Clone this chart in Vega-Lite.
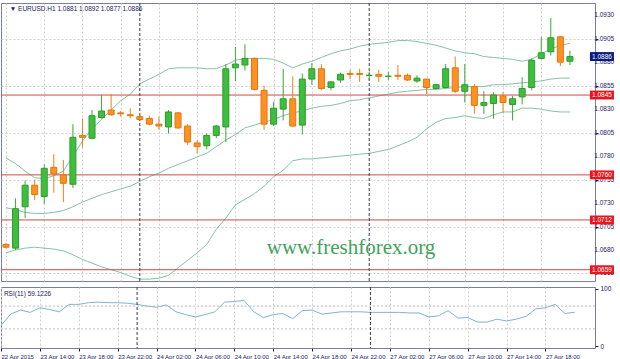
{
  "$schema": "https://vega.github.io/schema/vega-lite/v6.json",
  "background": "white",
  "padding": {"left": 0, "top": 2, "right": 0, "bottom": 0},
  "spacing": 3,
  "config": {
    "view": {"stroke": "#7a7f99", "strokeWidth": 1},
    "font": "Liberation Sans",
    "axis": {"labelFont": "Liberation Sans", "labelFontSize": 6.5, "labelColor": "#1c2060", "tickColor": "#1c2060", "domain": false, "title": null, "gridColor": "#cfcfcf", "gridDash": [2, 2], "tickSize": 3, "labelPadding": 2, "labelOverlap": false, "labelBound": false}
  },
  "datasets": {
    "bars": [
      {"k": -14, "o": 1.0686, "h": 1.0687, "l": 1.0682, "c": 1.0683, "up": 1.0778, "mid": 1.0725, "lo": 1.0677, "rsi": 36},
      {"k": -13, "o": 1.0682, "h": 1.0735, "l": 1.0680, "c": 1.0724, "up": 1.0772, "mid": 1.0723, "lo": 1.0680, "rsi": 56},
      {"k": -12, "o": 1.0726, "h": 1.0754, "l": 1.0714, "c": 1.0749, "up": 1.0764, "mid": 1.0720, "lo": 1.0682, "rsi": 63},
      {"k": -11, "o": 1.0749, "h": 1.0755, "l": 1.0733, "c": 1.0739, "up": 1.0757, "mid": 1.0719, "lo": 1.0683, "rsi": 59},
      {"k": -10, "o": 1.0737, "h": 1.0771, "l": 1.0729, "c": 1.0767, "up": 1.0756, "mid": 1.0719, "lo": 1.0682, "rsi": 67},
      {"k": -9, "o": 1.0768, "h": 1.0782, "l": 1.0741, "c": 1.0761, "up": 1.0759, "mid": 1.0720, "lo": 1.0681, "rsi": 64},
      {"k": -8, "o": 1.0760, "h": 1.0776, "l": 1.0731, "c": 1.0751, "up": 1.0764, "mid": 1.0722, "lo": 1.0679, "rsi": 60},
      {"k": -7, "o": 1.0750, "h": 1.0814, "l": 1.0746, "c": 1.0800, "up": 1.0780, "mid": 1.0726, "lo": 1.0675, "rsi": 73},
      {"k": -6, "o": 1.0802, "h": 1.0820, "l": 1.0789, "c": 1.0800, "up": 1.0796, "mid": 1.0731, "lo": 1.0670, "rsi": 73},
      {"k": -5, "o": 1.0799, "h": 1.0829, "l": 1.0798, "c": 1.0823, "up": 1.0809, "mid": 1.0735, "lo": 1.0666, "rsi": 76},
      {"k": -4, "o": 1.0821, "h": 1.0845, "l": 1.0820, "c": 1.0828, "up": 1.0819, "mid": 1.0739, "lo": 1.0662, "rsi": 77},
      {"k": -3, "o": 1.0829, "h": 1.0846, "l": 1.0823, "c": 1.0824, "up": 1.0829, "mid": 1.0742, "lo": 1.0659, "rsi": 76},
      {"k": -2, "o": 1.0826, "h": 1.0828, "l": 1.0822, "c": 1.0825, "up": 1.0839, "mid": 1.0745, "lo": 1.0656, "rsi": 76},
      {"k": -1, "o": 1.0824, "h": 1.0831, "l": 1.0820, "c": 1.0823, "up": 1.0846, "mid": 1.0748, "lo": 1.0652, "rsi": 75},
      {"k": 0, "o": 1.0822, "h": 1.0824, "l": 1.0818, "c": 1.0819, "up": 1.0857, "mid": 1.0753, "lo": 1.0649, "rsi": 73},
      {"k": 1, "o": 1.0820, "h": 1.0823, "l": 1.0813, "c": 1.0814, "up": 1.0862, "mid": 1.0758, "lo": 1.0649, "rsi": 70},
      {"k": 2, "o": 1.0814, "h": 1.0822, "l": 1.0808, "c": 1.0812, "up": 1.0867, "mid": 1.0762, "lo": 1.0650, "rsi": 68},
      {"k": 3, "o": 1.0811, "h": 1.0829, "l": 1.0804, "c": 1.0827, "up": 1.0873, "mid": 1.0767, "lo": 1.0653, "rsi": 72},
      {"k": 4, "o": 1.0826, "h": 1.0827, "l": 1.0809, "c": 1.0810, "up": 1.0874, "mid": 1.0771, "lo": 1.0661, "rsi": 60},
      {"k": 5, "o": 1.0812, "h": 1.0814, "l": 1.0792, "c": 1.0795, "up": 1.0874, "mid": 1.0775, "lo": 1.0669, "rsi": 55},
      {"k": 6, "o": 1.0794, "h": 1.0797, "l": 1.0783, "c": 1.0790, "up": 1.0874, "mid": 1.0779, "lo": 1.0677, "rsi": 51},
      {"k": 7, "o": 1.0791, "h": 1.0804, "l": 1.0787, "c": 1.0802, "up": 1.0873, "mid": 1.0783, "lo": 1.0686, "rsi": 55},
      {"k": 8, "o": 1.0802, "h": 1.0813, "l": 1.0799, "c": 1.0812, "up": 1.0873, "mid": 1.0790, "lo": 1.0702, "rsi": 60},
      {"k": 9, "o": 1.0811, "h": 1.0878, "l": 1.0795, "c": 1.0873, "up": 1.0877, "mid": 1.0797, "lo": 1.0714, "rsi": 77},
      {"k": 10, "o": 1.0874, "h": 1.0896, "l": 1.0860, "c": 1.0878, "up": 1.0882, "mid": 1.0803, "lo": 1.0728, "rsi": 78},
      {"k": 11, "o": 1.0877, "h": 1.0899, "l": 1.0871, "c": 1.0884, "up": 1.0884, "mid": 1.0810, "lo": 1.0734, "rsi": 80},
      {"k": 12, "o": 1.0884, "h": 1.0885, "l": 1.0850, "c": 1.0851, "up": 1.0884, "mid": 1.0813, "lo": 1.0740, "rsi": 60},
      {"k": 13, "o": 1.0850, "h": 1.0855, "l": 1.0808, "c": 1.0814, "up": 1.0884, "mid": 1.0816, "lo": 1.0748, "rsi": 50},
      {"k": 14, "o": 1.0814, "h": 1.0838, "l": 1.0812, "c": 1.0831, "up": 1.0883, "mid": 1.0819, "lo": 1.0758, "rsi": 55},
      {"k": 15, "o": 1.0830, "h": 1.0873, "l": 1.0818, "c": 1.0841, "up": 1.0879, "mid": 1.0823, "lo": 1.0765, "rsi": 57},
      {"k": 16, "o": 1.0841, "h": 1.0865, "l": 1.0811, "c": 1.0812, "up": 1.0874, "mid": 1.0826, "lo": 1.0775, "rsi": 48},
      {"k": 17, "o": 1.0813, "h": 1.0868, "l": 1.0803, "c": 1.0862, "up": 1.0878, "mid": 1.0828, "lo": 1.0777, "rsi": 62},
      {"k": 18, "o": 1.0862, "h": 1.0879, "l": 1.0856, "c": 1.0873, "up": 1.0881, "mid": 1.0831, "lo": 1.0777, "rsi": 63},
      {"k": 19, "o": 1.0873, "h": 1.0878, "l": 1.0850, "c": 1.0852, "up": 1.0885, "mid": 1.0833, "lo": 1.0778, "rsi": 56},
      {"k": 20, "o": 1.0853, "h": 1.0860, "l": 1.0850, "c": 1.0859, "up": 1.0889, "mid": 1.0834, "lo": 1.0779, "rsi": 58},
      {"k": 21, "o": 1.0861, "h": 1.0869, "l": 1.0858, "c": 1.0867, "up": 1.0892, "mid": 1.0836, "lo": 1.0780, "rsi": 60},
      {"k": 22, "o": 1.0868, "h": 1.0872, "l": 1.0862, "c": 1.0867, "up": 1.0894, "mid": 1.0839, "lo": 1.0781, "rsi": 60},
      {"k": 23, "o": 1.0868, "h": 1.0873, "l": 1.0859, "c": 1.0867, "up": 1.0897, "mid": 1.0840, "lo": 1.0782, "rsi": 60},
      {"k": 24, "o": 1.0866, "h": 1.0870, "l": 1.0861, "c": 1.0866, "up": 1.0899, "mid": 1.0842, "lo": 1.0783, "rsi": 59},
      {"k": 25, "o": 1.0867, "h": 1.0872, "l": 1.0859, "c": 1.0865, "up": 1.0900, "mid": 1.0844, "lo": 1.0785, "rsi": 59},
      {"k": 26, "o": 1.0865, "h": 1.0870, "l": 1.0861, "c": 1.0865, "up": 1.0901, "mid": 1.0846, "lo": 1.0787, "rsi": 59},
      {"k": 27, "o": 1.0866, "h": 1.0877, "l": 1.0861, "c": 1.0865, "up": 1.0903, "mid": 1.0848, "lo": 1.0791, "rsi": 59},
      {"k": 28, "o": 1.0866, "h": 1.0868, "l": 1.0860, "c": 1.0861, "up": 1.0903, "mid": 1.0849, "lo": 1.0795, "rsi": 58},
      {"k": 29, "o": 1.0860, "h": 1.0866, "l": 1.0858, "c": 1.0863, "up": 1.0902, "mid": 1.0850, "lo": 1.0800, "rsi": 58},
      {"k": 30, "o": 1.0862, "h": 1.0862, "l": 1.0846, "c": 1.0853, "up": 1.0900, "mid": 1.0851, "lo": 1.0809, "rsi": 51},
      {"k": 31, "o": 1.0852, "h": 1.0857, "l": 1.0851, "c": 1.0856, "up": 1.0898, "mid": 1.0851, "lo": 1.0816, "rsi": 53},
      {"k": 32, "o": 1.0853, "h": 1.0878, "l": 1.0852, "c": 1.0873, "up": 1.0895, "mid": 1.0852, "lo": 1.0820, "rsi": 62},
      {"k": 33, "o": 1.0874, "h": 1.0886, "l": 1.0847, "c": 1.0849, "up": 1.0892, "mid": 1.0853, "lo": 1.0821, "rsi": 49},
      {"k": 34, "o": 1.0849, "h": 1.0878, "l": 1.0837, "c": 1.0856, "up": 1.0890, "mid": 1.0854, "lo": 1.0823, "rsi": 50},
      {"k": 35, "o": 1.0854, "h": 1.0857, "l": 1.0825, "c": 1.0834, "up": 1.0889, "mid": 1.0854, "lo": 1.0821, "rsi": 42},
      {"k": 36, "o": 1.0834, "h": 1.0849, "l": 1.0825, "c": 1.0837, "up": 1.0886, "mid": 1.0854, "lo": 1.0820, "rsi": 42},
      {"k": 37, "o": 1.0836, "h": 1.0848, "l": 1.0820, "c": 1.0845, "up": 1.0885, "mid": 1.0856, "lo": 1.0824, "rsi": 47},
      {"k": 38, "o": 1.0844, "h": 1.0848, "l": 1.0826, "c": 1.0837, "up": 1.0884, "mid": 1.0856, "lo": 1.0827, "rsi": 44},
      {"k": 39, "o": 1.0835, "h": 1.0844, "l": 1.0818, "c": 1.0841, "up": 1.0883, "mid": 1.0857, "lo": 1.0827, "rsi": 47},
      {"k": 40, "o": 1.0843, "h": 1.0864, "l": 1.0835, "c": 1.0852, "up": 1.0881, "mid": 1.0858, "lo": 1.0831, "rsi": 52},
      {"k": 41, "o": 1.0853, "h": 1.0884, "l": 1.0850, "c": 1.0882, "up": 1.0883, "mid": 1.0859, "lo": 1.0831, "rsi": 65},
      {"k": 42, "o": 1.0884, "h": 1.0907, "l": 1.0883, "c": 1.0890, "up": 1.0889, "mid": 1.0860, "lo": 1.0830, "rsi": 67},
      {"k": 43, "o": 1.0891, "h": 1.0927, "l": 1.0887, "c": 1.0906, "up": 1.0894, "mid": 1.0862, "lo": 1.0828, "rsi": 73},
      {"k": 44, "o": 1.0907, "h": 1.0908, "l": 1.0876, "c": 1.0880, "up": 1.0898, "mid": 1.0863, "lo": 1.0827, "rsi": 57},
      {"k": 45, "o": 1.0881, "h": 1.0892, "l": 1.0877, "c": 1.0886, "up": 1.0900, "mid": 1.0863, "lo": 1.0827, "rsi": 59.1226}
    ],
    "levels": [{"p": 1.0845}, {"p": 1.0760}, {"p": 1.0712}, {"p": 1.0659}],
    "last": [{"p": 1.0886}],
    "pticks": [{"p": 1.0655}, {"p": 1.0680}, {"p": 1.0705}, {"p": 1.0730}, {"p": 1.0755}, {"p": 1.0780}, {"p": 1.0805}, {"p": 1.0830}, {"p": 1.0855}, {"p": 1.0880}, {"p": 1.0905}, {"p": 1.0930}],
    "seps": [{"k": 0}, {"k": 24}],
    "rsilevels": [{"v": 30}, {"v": 70}]
  },
  "vconcat": [
    {
      "width": 594,
      "height": 278,
      "layer": [
        {
          "data": {"name": "bars"},
          "mark": {"type": "line", "color": "#86c2a4", "strokeWidth": 1, "clip": true},
          "encoding": {
            "x": {"field": "k", "type": "quantitative", "scale": {"domain": [-14, 47.1], "nice": false, "zero": false},
                  "axis": {"values": [-14, -10, -6, -2, 2, 6, 10, 14, 18, 22, 26, 30, 34, 38, 42], "labels": false, "ticks": false, "grid": true}},
            "y": {"field": "up", "type": "quantitative", "scale": {"domain": [1.0647, 1.0943], "nice": false, "zero": false},
                  "axis": {"orient": "right", "values": [1.0655, 1.068, 1.0705, 1.073, 1.0755, 1.078, 1.0805, 1.083, 1.0855, 1.088, 1.0905, 1.093], "labels": false, "grid": true}}
          }
        },
        {
          "data": {"name": "bars"},
          "mark": {"type": "line", "color": "#86c2a4", "strokeWidth": 1, "clip": true},
          "encoding": {"x": {"field": "k", "type": "quantitative"}, "y": {"field": "mid", "type": "quantitative"}}
        },
        {
          "data": {"name": "bars"},
          "mark": {"type": "line", "color": "#86c2a4", "strokeWidth": 1, "clip": true},
          "encoding": {"x": {"field": "k", "type": "quantitative"}, "y": {"field": "lo", "type": "quantitative"}}
        },
        {
          "data": {"name": "levels"},
          "mark": {"type": "rule", "color": "#cc4a4a", "strokeWidth": 1},
          "encoding": {"y": {"field": "p", "type": "quantitative"}}
        },
        {
          "data": {"name": "seps"},
          "mark": {"type": "rule", "color": "#3a3a4a", "strokeWidth": 1, "strokeDash": [3, 2]},
          "encoding": {"x": {"field": "k", "type": "quantitative"}}
        },
        {
          "data": {"name": "bars"},
          "mark": {"type": "rule", "strokeWidth": 1, "clip": true},
          "encoding": {
            "x": {"field": "k", "type": "quantitative"},
            "y": {"field": "l", "type": "quantitative"},
            "y2": {"field": "h"},
            "color": {"condition": {"test": "datum.c >= datum.o", "value": "#3aa83a"}, "value": "#e8841a"}
          }
        },
        {
          "data": {"name": "bars"},
          "mark": {"type": "bar", "width": 6, "strokeWidth": 1, "clip": true},
          "encoding": {
            "x": {"field": "k", "type": "quantitative"},
            "y": {"field": "o", "type": "quantitative"},
            "y2": {"field": "c"},
            "fill": {"condition": {"test": "datum.c >= datum.o", "value": "#3dbf3d"}, "value": "#ff9122"},
            "stroke": {"condition": {"test": "datum.c >= datum.o", "value": "#2f9a2f"}, "value": "#e07612"}
          }
        },
        {
          "data": {"name": "last"},
          "mark": {"type": "text", "text": "www.freshforex.org", "font": "Liberation Serif", "fontSize": 21, "color": "#3fa35a", "align": "center", "baseline": "middle"},
          "encoding": {"x": {"datum": 22.1}, "y": {"datum": 1.0682}}
        },
        {
          "data": {"name": "last"},
          "mark": {"type": "text", "text": "▼ EURUSD.H1  1.0881 1.0892 1.0877 1.0886", "fontSize": 6.5, "color": "#1c2060", "align": "left", "baseline": "middle"},
          "encoding": {"x": {"datum": -13.6}, "y": {"datum": 1.0937}}
        },
        {
          "data": {"name": "pticks"},
          "mark": {"type": "text", "fontSize": 6.5, "color": "#1c2060", "align": "left", "baseline": "middle", "clip": false},
          "encoding": {"x": {"datum": 47.55}, "y": {"field": "p", "type": "quantitative"}, "text": {"field": "p", "format": ".4f"}}
        },
        {
          "data": {"name": "levels"},
          "mark": {"type": "point", "shape": "M-1,-0.37L1,-0.37L1,0.37L-1,0.37Z", "size": 576, "filled": true, "opacity": 1, "color": "#e8141e", "clip": false},
          "encoding": {"x": {"datum": 48.35}, "y": {"field": "p", "type": "quantitative"}}
        },
        {
          "data": {"name": "last"},
          "mark": {"type": "point", "shape": "M-1,-0.37L1,-0.37L1,0.37L-1,0.37Z", "size": 576, "filled": true, "opacity": 1, "color": "#0a1a80", "clip": false},
          "encoding": {"x": {"datum": 48.35}, "y": {"field": "p", "type": "quantitative"}}
        },
        {
          "data": {"name": "levels"},
          "mark": {"type": "text", "fontSize": 6.5, "color": "white", "align": "center", "baseline": "middle", "clip": false},
          "encoding": {"x": {"datum": 48.35}, "y": {"field": "p", "type": "quantitative"}, "text": {"field": "p", "format": ".4f"}}
        },
        {
          "data": {"name": "last"},
          "mark": {"type": "text", "fontSize": 6.5, "color": "white", "align": "center", "baseline": "middle", "clip": false},
          "encoding": {"x": {"datum": 48.35}, "y": {"field": "p", "type": "quantitative"}, "text": {"field": "p", "format": ".4f"}}
        }
      ]
    },
    {
      "width": 594,
      "height": 61,
      "layer": [
        {
          "data": {"name": "bars"},
          "mark": {"type": "line", "color": "#7fb3d0", "strokeWidth": 1, "clip": true},
          "encoding": {
            "x": {"field": "k", "type": "quantitative", "scale": {"domain": [-14, 47.1], "nice": false, "zero": false},
                  "axis": {"orient": "bottom", "values": [-14, -10, -6, -2, 2, 6, 10, 14, 18, 22, 26, 30, 34, 38, 42], "grid": true, "labelAlign": "left", "labelFontSize": 6, "labelPadding": 2, "labelOverlap": false,
                           "labelExpr": "['22 Apr 2015','23 Apr 14:00','23 Apr 18:00','23 Apr 22:00','24 Apr 02:00','24 Apr 06:00','24 Apr 10:00','24 Apr 14:00','24 Apr 18:00','24 Apr 22:00','27 Apr 02:00','27 Apr 06:00','27 Apr 10:00','27 Apr 14:00','27 Apr 18:00'][(datum.value + 14) / 4]"}},
            "y": {"field": "rsi", "type": "quantitative", "scale": {"domain": [-3.5, 103.5], "nice": false, "zero": false},
                  "axis": {"orient": "right", "values": [0, 30, 70, 100], "grid": false, "labelOverlap": false}}
          }
        },
        {
          "data": {"name": "rsilevels"},
          "mark": {"type": "rule", "color": "#bdbdbd", "strokeWidth": 1, "strokeDash": [2, 2]},
          "encoding": {"y": {"field": "v", "type": "quantitative"}}
        },
        {
          "data": {"name": "seps"},
          "mark": {"type": "rule", "color": "#3a3a4a", "strokeWidth": 1, "strokeDash": [3, 2]},
          "encoding": {"x": {"field": "k", "type": "quantitative"}}
        },
        {
          "data": {"name": "last"},
          "mark": {"type": "text", "text": "RSI(11) 59.1226", "fontSize": 6.5, "color": "#1c2060", "align": "left", "baseline": "middle"},
          "encoding": {"x": {"datum": -13.7}, "y": {"datum": 92}}
        }
      ]
    }
  ]
}
